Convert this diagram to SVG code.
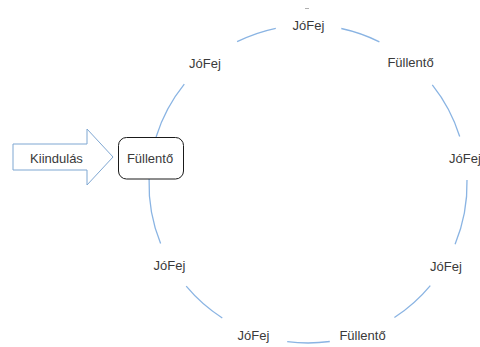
<svg xmlns="http://www.w3.org/2000/svg" width="480" height="347" viewBox="0 0 480 347">
<style>
.lbl{font-family:"Liberation Sans",Arial,sans-serif;font-size:13px;fill:#3a3a3a;text-anchor:middle}
.arc{fill:none;stroke:#8ab4e3;stroke-width:1.3}
</style>
<rect width="480" height="347" fill="#fff"/>
<g id="connectors">
<path class="arc" d="M341.3,28.5 A159,159 0 0 1 379.4,41.9"/>
<path class="arc" d="M432.3,84.8 A159,159 0 0 1 459.7,136.5"/>
<path class="arc" d="M467.0,180.1 A159,159 0 0 1 455.1,244.3"/>
<path class="arc" d="M430.3,285.6 A159,159 0 0 1 394.4,317.5"/>
<path class="arc" d="M329.8,341.5 A159,159 0 0 1 287.2,341.6"/>
<path class="arc" d="M222.3,318.0 A159,159 0 0 1 186.2,286.2"/>
<path class="arc" d="M160.6,243.6 A159,159 0 0 1 149.1,179.0"/>
<path class="arc" d="M156.1,137.0 A159,159 0 0 1 184.3,84.2"/>
<path class="arc" d="M237.1,41.7 A159,159 0 0 1 275.8,28.3"/>
<line x1="305" y1="8.5" x2="309" y2="8.5" stroke="#9a9a9a" stroke-width="0.8"/>
</g>
<g id="start">
<polygon points="13,144 87,144 87,129 113,157 87,185 87,170 13,170" fill="#fff" stroke="#7fa7d2" stroke-width="1"/>
<text class="lbl" x="56.5" y="162.5">Kiindulás</text>
</g>
<g id="n0">
<rect x="118.5" y="137.5" width="65" height="41.5" rx="8" ry="8" fill="#fff" stroke="#1a1a1a" stroke-width="1"/>
<text class="lbl" x="150" y="162.5">Füllentő</text>
</g>
<g id="n1"><text class="lbl" x="205" y="68">JóFej</text></g>
<g id="n2"><text class="lbl" x="308.5" y="29.5">JóFej</text></g>
<g id="n3"><text class="lbl" x="410.5" y="67">Füllentő</text></g>
<g id="n4"><text class="lbl" x="465" y="162.5">JóFej</text></g>
<g id="n5"><text class="lbl" x="446" y="270.5">JóFej</text></g>
<g id="n6"><text class="lbl" x="362.5" y="339.5">Füllentő</text></g>
<g id="n7"><text class="lbl" x="253.5" y="339.5">JóFej</text></g>
<g id="n8"><text class="lbl" x="169.5" y="269.5">JóFej</text></g>
</svg>
